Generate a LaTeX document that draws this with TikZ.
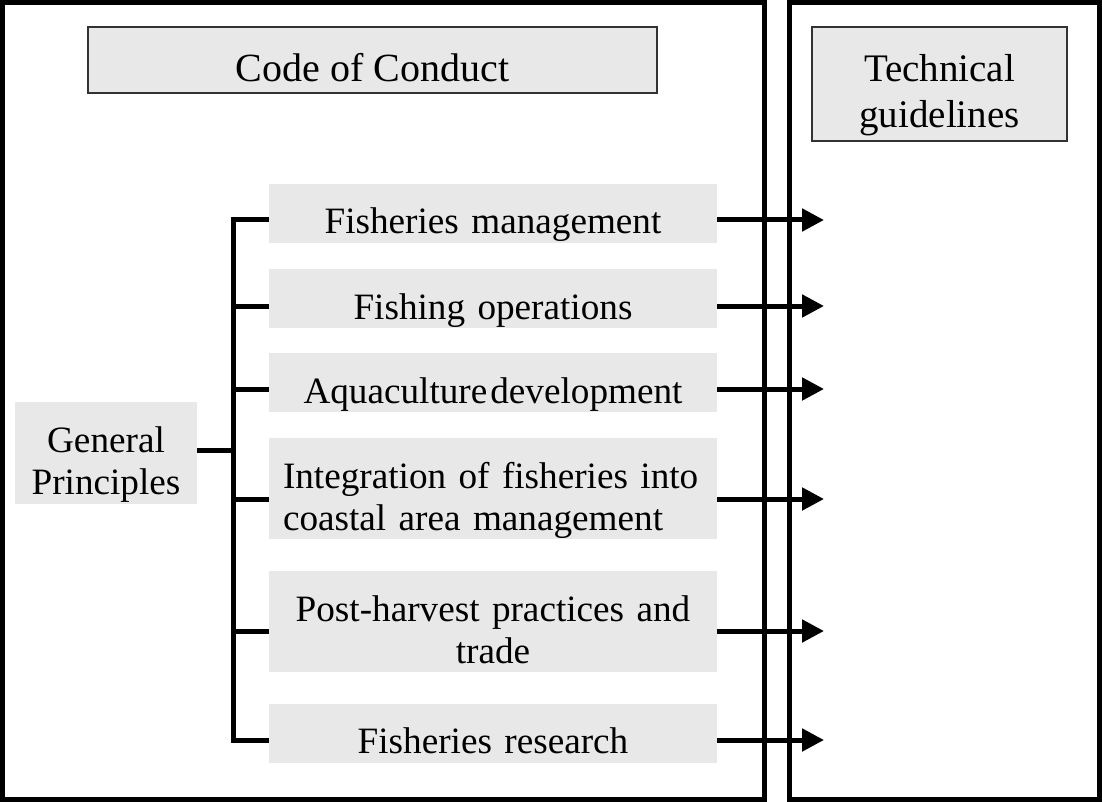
\documentclass[tikz,border=0pt]{standalone}
\usepackage{fontspec}
\setmainfont{Liberation Serif}
\usetikzlibrary{arrows.meta}

\definecolor{boxgray}{HTML}{E8E8E8}

\tikzset{
  frame/.style={line width=2.5pt},
  wire/.style={line width=2.5pt},
  arr/.style={line width=2.5pt, -{Triangle[length=11pt,width=11pt]}},
  titlebox/.style={fill=boxgray, draw=black!80, line width=0.6pt, inner xsep=0pt, inner ysep=0pt, align=center},
  item/.style={fill=boxgray, inner xsep=7pt, inner ysep=0pt, text width=210pt, align=center, text height=25pt, font=\fontsize{18.6pt}{21pt}\selectfont},
  oneline/.style={item, text depth=4.5pt},
  twoline/.style={item, text depth=25.5pt}
}

\begin{document}
\begin{tikzpicture}[x=0.5pt, y=-0.5pt]
      \useasboundingbox (0,0) rectangle (1102,802);

      % the two big frames
      \draw[frame] (2.5,2.5) rectangle (764.5,799.5);
      \draw[frame] (789,2.5) rectangle (1099,799.5);

      % headings
      \node[titlebox, minimum width=284.5pt, text height=27.5pt, text depth=5.5pt, font=\fontsize{20pt}{24pt}\selectfont] (code) at (372.5,60) {Code of Conduct};
      \node[titlebox, minimum width=127.5pt, text width=120pt, text height=27.5pt, text depth=29.5pt, font=\fontsize{19.5pt}{23pt}\selectfont] (tech) at (939.5,84) {Technical\\guidelines};

      % general principles on the left
      \node[item, text width=77pt, text depth=26pt] (gp) at (106,453) {General\\Principles};

      % the six chapters
      \node[oneline] (mgmt) at (493,213.5) {Fisheries management};
      \node[oneline] (ops) at (493,298.5) {Fishing operations};
      \node[oneline] (aqua) at (493,382.5) {Aquaculture\hspace{0.08em}development};
      \node[twoline, align=left] (coast) at (493,488.5) {Integration of fisheries into\\coastal area management};
      \node[twoline] (trade) at (493,621.5) {Post-harvest practices and\\trade};
      \node[oneline] (research) at (493,733) {Fisheries research};

      % bus and arrow tips
      \coordinate (bustop) at (233,220);
      \coordinate (busbot) at (233,740);
      \coordinate (busgp) at (233,450);
      \coordinate (t1) at (824,220);
      \coordinate (t2) at (824,306);
      \coordinate (t3) at (824,389);
      \coordinate (t4) at (824,499);
      \coordinate (t5) at (824,631);
      \coordinate (t6) at (824,740);

      % connections to the chapters
      \draw[wire] (mgmt.west |- t1) -- (bustop) -- (busbot) -- (research.west |- t6);
      \draw[wire] (gp.east |- busgp) -- (busgp);
      \draw[wire] (bustop |- t2) -- (ops.west |- t2);
      \draw[wire] (bustop |- t3) -- (aqua.west |- t3);
      \draw[wire] (bustop |- t4) -- (coast.west |- t4);
      \draw[wire] (bustop |- t5) -- (trade.west |- t5);

      % arrows into the guidelines
      \draw[arr] (mgmt.east |- t1) -- (t1);
      \draw[arr] (ops.east |- t2) -- (t2);
      \draw[arr] (aqua.east |- t3) -- (t3);
      \draw[arr] (coast.east |- t4) -- (t4);
      \draw[arr] (trade.east |- t5) -- (t5);
      \draw[arr] (research.east |- t6) -- (t6);
    \end{tikzpicture}
\end{document}
